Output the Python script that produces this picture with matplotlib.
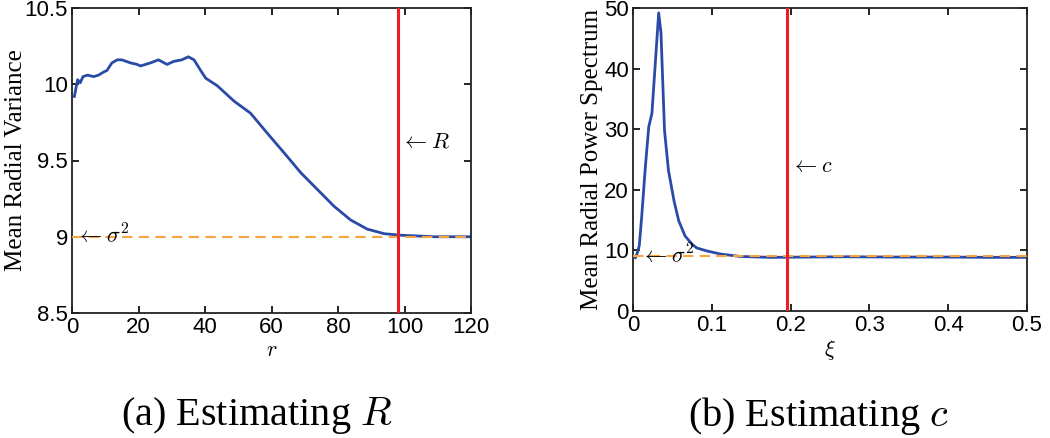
import matplotlib
matplotlib.use("Agg")
import matplotlib.pyplot as plt

plt.rcParams['mathtext.fontset'] = 'cm'
plt.rcParams['font.family'] = ['Liberation Sans', 'DejaVu Sans']

# (a) mean radial variance vs r
r = [0.7, 1.7, 2.5, 3.3, 4.7, 6.5, 8, 9.5, 10.5, 12, 13.6, 15, 17.6, 19.6, 20.6,
     23.6, 26, 28.6, 30.6, 33, 35, 36.7, 38.7, 40.2, 43.7, 48.7, 53.7, 58.7,
     63.8, 68.8, 73.8, 78.8, 83.8, 88.8, 93.9, 98.9, 104, 109, 115, 120]
variance = [9.92, 10.03, 10.01, 10.05, 10.06, 10.05, 10.06, 10.08, 10.09, 10.14,
            10.16, 10.16, 10.14, 10.13, 10.12, 10.14, 10.16, 10.13, 10.15, 10.16,
            10.18, 10.16, 10.09, 10.04, 9.99, 9.89, 9.81, 9.68, 9.55, 9.42, 9.31,
            9.20, 9.11, 9.05, 9.02, 9.01, 9.005, 9.0, 9.0, 9.0]
R_est = 98
sigma2 = 9

# (b) mean radial power spectrum vs xi
xi = [0.003, 0.005, 0.008, 0.011, 0.0157, 0.020, 0.024, 0.028, 0.0326, 0.0355,
      0.040, 0.045, 0.052, 0.058, 0.066, 0.075, 0.081, 0.094, 0.111, 0.136,
      0.174, 0.22, 0.27, 0.33, 0.4, 0.45, 0.5]
power = [8.8, 9.4, 10.8, 15.5, 23.8, 30.4, 32.6, 40.3, 49.2, 45.9, 29.8, 23.2,
         18.2, 14.9, 12.4, 11.0, 10.4, 9.9, 9.4, 9.0, 8.85, 8.9, 8.95, 8.9, 8.9,
         8.85, 8.85]
c_est = 0.195

blue = '#2a4aa8'
red = '#ee1c25'
orange = '#f7a541'
serif = ['Liberation Serif', 'DejaVu Serif']

fig = plt.figure(figsize=(10.5, 4.38), dpi=100)
ax1 = fig.add_axes([72 / 1050, 1 - 313 / 438, 399 / 1050, 305 / 438])
ax2 = fig.add_axes([633 / 1050, 1 - 311 / 438, 394 / 1050, 303 / 438])

for ax in (ax1, ax2):
    ax.tick_params(direction='in', top=True, right=True, labelsize=16, length=5, width=1.2, pad=3)
    for s in ax.spines.values():
        s.set_linewidth(1.3)
        s.set_color('#222222')

ax1.plot(r, variance, color=blue, lw=2, zorder=2)
ax1.axhline(sigma2, color=orange, lw=1.5, ls=(0, (5, 3)), zorder=3)
ax1.axvline(R_est, color=red, lw=2.2, zorder=4)
ax1.set_xlim(0, 120)
ax1.set_ylim(8.5, 10.5)
ax1.set_xticks([0, 20, 40, 60, 80, 100, 120])
ax1.set_yticks([8.5, 9, 9.5, 10, 10.5])
ax1.set_yticklabels(['8.5', '9', '9.5', '10', '10.5'])
ax1.set_ylabel('Mean Radial Variance', family=serif, fontsize=18, labelpad=-2)
ax1.set_xlabel('$r$', fontsize=16, labelpad=1)
ax1.text(1.2, sigma2, r'$\leftarrow\sigma^2$', fontsize=16, va='center', ha='left')
ax1.text(R_est + 0.8, 9.62, r'$\leftarrow R$', fontsize=16, va='center', ha='left')

ax2.plot(xi, power, color=blue, lw=2, zorder=2)
ax2.axhline(sigma2, color=orange, lw=1.5, ls=(0, (5, 3)), zorder=3)
ax2.axvline(c_est, color=red, lw=2.2, zorder=4)
ax2.set_xlim(0, 0.5)
ax2.set_ylim(0, 50)
ax2.set_xticks([0, 0.1, 0.2, 0.3, 0.4, 0.5])
ax2.set_xticklabels(['0', '0.1', '0.2', '0.3', '0.4', '0.5'])
ax2.set_yticks([0, 10, 20, 30, 40, 50])
ax2.set_ylabel('Mean Radial Power Spectrum', family=serif, fontsize=18, labelpad=1)
ax2.set_xlabel(r'$\xi$', fontsize=16, labelpad=1)
ax2.text(0.01, sigma2, r'$\leftarrow\sigma^2$', fontsize=16, va='center', ha='left')
ax2.text(c_est + 0.006, 23.8, r'$\leftarrow c$', fontsize=16, va='center', ha='left')

fig.text(257 / 1050, 1 - 416 / 438, '(a) Estimating $R$', family=serif, fontsize=29,
         ha='center', va='center')
fig.text(818 / 1050, 1 - 416 / 438, '(b) Estimating $c$', family=serif, fontsize=29,
         ha='center', va='center')

fig.savefig('out.png', dpi=100)
